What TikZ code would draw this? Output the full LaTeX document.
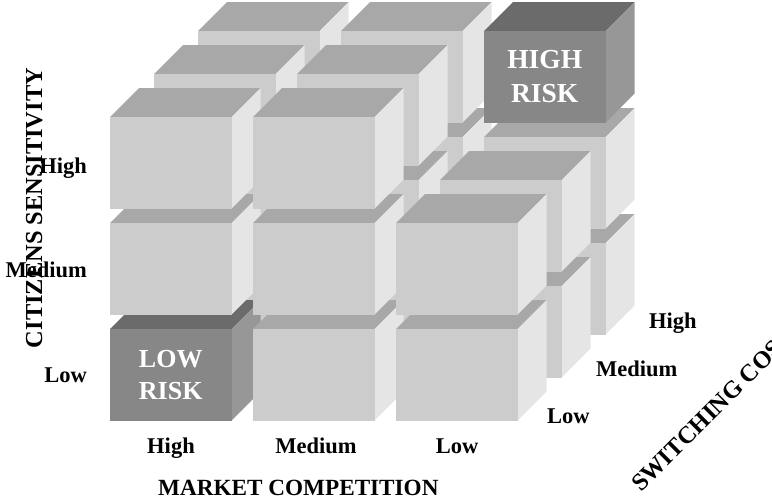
\documentclass[tikz,border=0pt]{standalone}
\usepackage{fontspec}
\setmainfont{Liberation Serif}
\definecolor{lfront}{HTML}{CCCCCC}
\definecolor{ltop}{HTML}{A8A8A8}
\definecolor{lside}{HTML}{E5E5E5}
\definecolor{dfront}{HTML}{878787}
\definecolor{dtop}{HTML}{6B6B6B}
\definecolor{dside}{HTML}{979797}
% cube size: front width, front height, oblique depth
\def\cw{121.5}
\def\ch{91.5}
\def\cd{29}
\begin{document}
\begin{tikzpicture}[x=1pt,y=-1pt,
  lbl/.style={font=\bfseries\fontsize{22.5}{27}\selectfont, inner sep=0pt},
  title/.style={font=\bfseries\fontsize{24.4}{29}\selectfont, inner sep=0pt},
  risk/.style={font=\bfseries\fontsize{26}{32}\selectfont, text=white, align=center, inner sep=0pt}]
\useasboundingbox (0,0) rectangle (772,499);
\clip (0,0) rectangle (772,499);

% stack of cubes (3 columns x 3 rows x 3 layers), painted back to front,
% bottom to top, left to right; the top-row cubes of the right column are
% left out in the two front layers
\foreach \k in {2,1,0}{
  \foreach \r in {2,1,0}{
    \foreach \c in {0,1,2}{
      \pgfmathtruncatemacro\id{100*\c+10*\r+\k}
      \pgfmathtruncatemacro\skip{(\id==200)||(\id==201)}
      \ifnum\skip=0
        \pgfmathsetmacro\X{110+143*\c+44*\k}
        \pgfmathsetmacro\Y{117+106*\r-43*\k}
        \ifnum\id=20
          \colorlet{cf}{dfront}\colorlet{ct}{dtop}\colorlet{cs}{dside}
        \else\ifnum\id=202
          \colorlet{cf}{dfront}\colorlet{ct}{dtop}\colorlet{cs}{dside}
        \else
          \colorlet{cf}{lfront}\colorlet{ct}{ltop}\colorlet{cs}{lside}
        \fi\fi
        \fill[ct] (\X,\Y) -- ++(\cw,0) -- ++(\cd,-\cd) -- ++(-\cw,0) -- cycle;
        \fill[cs] (\X+\cw,\Y) -- ++(\cd,-\cd) -- ++(0,\ch) -- ++(-\cd,\cd) -- cycle;
        \fill[cf] (\X,\Y) rectangle ++(\cw,\ch);
      \fi
    }
  }
}

% risk labels on the two corner cubes
\node[risk] (lowrisk) at (170.75,374.75) {LOW\\RISK};
\node[risk, font=\bfseries\fontsize{27.5}{34}\selectfont] (highrisk) at (544.75,76.75) {HIGH\\RISK};

% citizens sensitivity axis
\node[lbl, anchor=base east] (cshigh) at (87,173.3) {High};
\node[lbl, anchor=base east] (csmed) at (87,277.3) {Medium};
\node[lbl, anchor=base east] (cslow) at (87,382.3) {Low};
\node[title, rotate=90, anchor=base] (cstitle) at (42,208) {CITIZENS SENSITIVITY};

% market competition axis
\node[lbl, anchor=base] (mchigh) at (171,453) {High};
\node[lbl, anchor=base] (mcmed) at (316,453) {Medium};
\node[lbl, anchor=base] (mclow) at (457,453) {Low};
\node[title, font=\bfseries\fontsize{23.2}{28}\selectfont, anchor=base west] (mctitle) at (158,495) {MARKET COMPETITION};

% switching cost axis
\node[lbl, anchor=base west] (schigh) at (649,328) {High};
\node[lbl, anchor=base west] (scmed) at (596,376) {Medium};
\node[lbl, anchor=base west] (sclow) at (547,423) {Low};
\node[title, rotate=45, anchor=base west] (sctitle) at (641,493) {SWITCHING COSTS};
\end{tikzpicture}
\end{document}
